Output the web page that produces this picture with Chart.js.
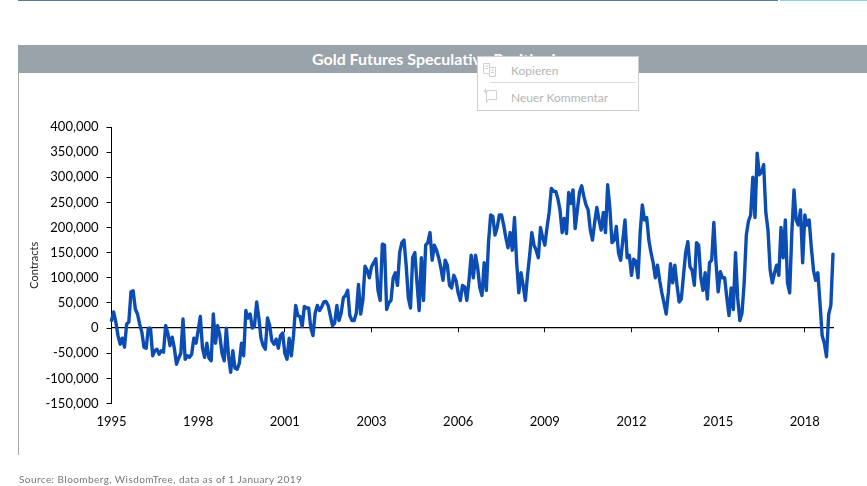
<!DOCTYPE html>
<html>
<head>
<meta charset="utf-8">
<title>Gold Futures Speculative Positioning</title>
<script src="https://cdn.jsdelivr.net/npm/chart.js@4"></script>
<style>
    html, body { margin: 0; padding: 0; background: #fff; width: 867px; height: 486px; overflow: hidden; }
    .abs { position: absolute; }
    #ruleBlue { left: 18px; top: 0; width: 760px; height: 1px; background: #5b79a6; }
    #ruleTeal { left: 780px; top: 0; width: 87px; height: 1px; background: #8ed3da; }
    #frame { left: 18px; top: 45px; width: 848px; height: 410px; border-left: 1px solid #a9a9a9; border-right: 1px solid #d0d0d0; }
    #header { left: 18px; top: 45px; width: 849px; height: 28px; background: #99a3a9; color: #fff; text-align: center;
        font: bold 16px/27px Lato, sans-serif; }
    #chartWrap { left: 0; top: 0; width: 867px; height: 486px; }
    #source { left: 19px; top: 473px; color: #777; font: 10px/13px Lato, sans-serif; letter-spacing: 0.43px; }
    #menu { left: 477px; top: 56px; width: 160px; height: 53px; background: #fff; border: 1px solid #cfcfcf; color: #b5b5b5;
        font: 12px Lato, sans-serif; }
    #menu span { position: absolute; left: 33px; }
    #menu hr { position: absolute; left: 12px; top: 25px; width: 146px; margin: 0; border: 0; border-top: 1px solid #ddd; }
    #menu svg { position: absolute; left: 4px; }
</style>
</head>
<body>
<div class="abs" id="ruleBlue"></div>
<div class="abs" id="ruleTeal"></div>
<div class="abs" id="frame"></div>
<div class="abs" id="header">Gold Futures Speculative Positioning</div>
<div class="abs" id="chartWrap"><canvas id="goldChart" width="867" height="486"></canvas></div>
<div class="abs" id="source">Source: Bloomberg, WisdomTree, data as of 1 January 2019</div>
<div class="abs" id="menu">
    <svg style="top:5px" width="16" height="16" fill="none" stroke="#d0d0d0"><path d="M1.5 1.5h6v10h-6zM7.5 5.5h6v9h-6zM3 4h3M3 6.5h3M9 8h3M9 10.5h3"/></svg>
    <span style="top:6px">Kopieren</span>
    <hr>
    <svg style="top:31px" width="16" height="16" fill="none" stroke="#d0d0d0"><path d="M4.5 2.5h10v9h-8l-2 3zM1 3h5M3.5 .5v5" /></svg>
    <span style="top:33px">Neuer Kommentar</span>
</div>

<script>
// Net speculative positions, thousands of contracts, one list per labelled span of the axis.
const TICK_YEARS = [1995, 1998, 2001, 2003, 2006, 2009, 2012, 2015, 2018];
const TICK_EVERY = 40;
const BLUE = '#0b4db3';
const AXIS_FONT = { family: 'Lato', size: 13 };

const from1995 = [15,32,12,-15,-32,-20,-38,8,12,72,74,38,28,8,-8,-38,-40,0,0,-55,-45,-42,-52,-45,-48,5,-10,-35,-18,-40,-72,-60,-50,18,-62,-55,-58,-52,-20,-30];
const from1998 = [-5,23,-40,-58,-30,-60,-65,28,-30,5,-15,-50,-65,0,-55,-88,-45,-80,-82,-70,-30,-55,35,20,28,0,5,52,20,-20,-35,-42,20,5,-25,-32,-22,-40,-15,-10];
const from2001 = [-50,-62,-20,-55,-15,45,25,23,3,43,40,40,0,-15,30,45,35,42,52,53,45,25,5,10,45,15,30,60,65,75,25,15,15,30,87,28,55,123,115,100];
const from2003 = [122,130,138,75,55,167,165,37,50,55,100,110,85,150,170,175,125,60,40,140,150,90,35,140,55,165,170,190,135,165,155,140,120,95,135,125,85,80,105,95];
const from2006 = [70,55,85,82,55,95,145,100,145,120,80,65,130,75,170,225,222,185,200,225,225,205,180,160,190,155,220,130,70,110,85,55,105,145,190,165,155,140,200,180];
const from2009 = [165,200,230,278,272,272,258,235,190,218,188,270,248,275,198,235,270,283,262,245,235,195,175,210,240,215,195,230,190,285,240,170,175,202,150,135,175,215,140,145];
const from2012 = [105,137,133,100,190,245,215,220,175,150,130,100,125,95,70,50,28,70,128,90,125,85,52,58,105,150,172,122,115,85,170,165,100,75,110,58,130,135,210,130];
const from2015 = [72,112,100,100,60,25,80,37,150,60,15,30,90,185,213,225,300,220,348,305,310,325,230,195,115,90,110,125,105,200,140,215,90,70,190,275,215,205,235,130];
const from2018 = [225,205,215,160,115,95,110,50,-15,-30,-57,27,45,147];

const positions = [...from1995, ...from1998, ...from2001, ...from2003, ...from2006, ...from2009, ...from2012, ...from2015, ...from2018];
const contracts = positions.map(v => v * 1000);
const labels = positions.map((v, i) => (i % TICK_EVERY === 0 ? String(TICK_YEARS[i / TICK_EVERY]) : ''));

const keepLabelled = (scale) => {
    scale.ticks = scale.ticks.filter(t => t.value % TICK_EVERY === 0);
};

new Chart(document.getElementById('goldChart'), {
    type: 'line',
    data: {
        labels: labels,
        datasets: [{
            label: 'Contracts',
            data: contracts,
            borderColor: BLUE,
            borderWidth: 3.4,
            borderJoinStyle: 'round',
            borderCapStyle: 'round',
            pointRadius: 0,
            tension: 0,
            clip: false
        }]
    },
    options: {
        responsive: false,
        animation: false,
        layout: { padding: { left: 28, right: 34, top: 127, bottom: 57.5 } },
        plugins: { legend: { display: false }, tooltip: { enabled: false } },
        scales: {
            x: {
                position: 'bottom',
                grid: { display: false, drawTicks: false },
                border: { display: false },
                afterBuildTicks: keepLabelled,
                afterFit: (s) => { s.height = 25; },
                ticks: {
                    autoSkip: false,
                    maxRotation: 0,
                    color: '#000',
                    padding: 11,
                    font: AXIS_FONT,
                    callback: (v, i, ticks) => labels[ticks[i].value]
                }
            },
            zeroLine: {
                axis: 'x',
                type: 'category',
                position: { y: 0 },
                afterBuildTicks: keepLabelled,
                grid: { display: true, drawOnChartArea: false, drawTicks: true, tickLength: 4, color: '#000' },
                border: { display: true, color: '#000', width: 1.2 },
                ticks: { display: false, autoSkip: false }
            },
            y: {
                min: -150000,
                max: 400000,
                afterFit: (s) => { s.width = 83.5; },
                title: { display: true, text: 'Contracts', color: '#222', padding: 0, font: { family: 'Lato', size: 11 } },
                grid: { display: true, drawOnChartArea: false, drawTicks: true, tickLength: 5, color: '#000' },
                border: { display: true, color: '#000', width: 1 },
                ticks: {
                    stepSize: 50000,
                    color: '#000',
                    padding: 8,
                    font: AXIS_FONT,
                    callback: (v) => new Intl.NumberFormat('en-US').format(v)
                }
            }
        }
    }
});
</script>
</body>
</html>
